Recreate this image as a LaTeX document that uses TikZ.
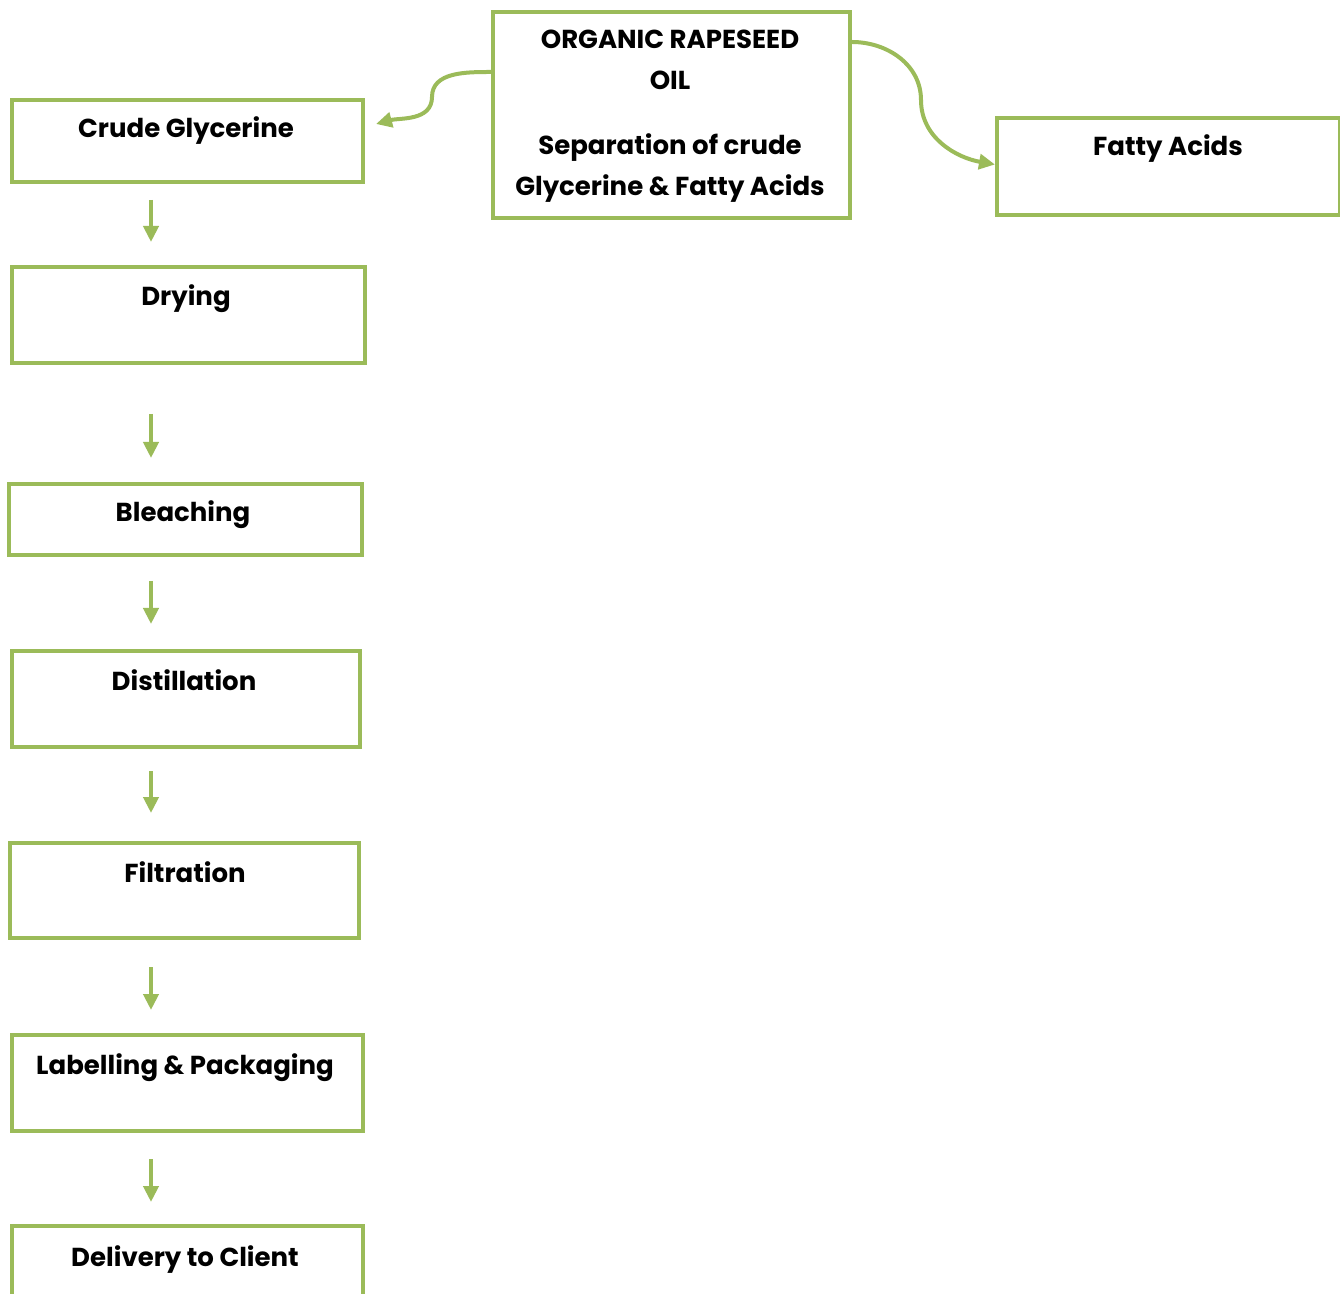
\documentclass[tikz,border=0pt]{standalone}
\usepackage{fontspec}
\setmainfont{Poppins}
\usetikzlibrary{arrows.meta}
\definecolor{leaf}{HTML}{9BBB59}
\tikzset{
  stepbox/.style={draw=leaf, line width=2pt, anchor=north west, inner sep=0pt},
  steptext/.style={anchor=base, font=\bfseries\fontsize{13}{20.5}\selectfont, align=center},
  flow/.style={draw=leaf, line width=2.4pt, -{Triangle[length=8pt,width=7.5pt]}},
  branch/.style={draw=leaf, line width=2pt, -{Triangle[length=8pt,width=7.5pt]}},
}
\begin{document}
\begin{tikzpicture}[x=0.5pt, y=-0.5pt]
  \useasboundingbox (0,0) rectangle (1340,1294);

  % boxes
  \node[stepbox, minimum width=178.5pt, minimum height=103pt] (oil) at (491,10) {};
  \node[stepbox, minimum width=175.5pt, minimum height=41pt] (crude) at (10,98) {};
  \node[stepbox, minimum width=171.5pt, minimum height=48.5pt] (fatty) at (995,116) {};
  \node[stepbox, minimum width=176.5pt, minimum height=48pt] (drying) at (10,265) {};
  \node[stepbox, minimum width=176.5pt, minimum height=35.5pt] (bleach) at (7,482) {};
  \node[stepbox, minimum width=174pt, minimum height=48pt] (distil) at (10,649) {};
  \node[stepbox, minimum width=174.5pt, minimum height=47.5pt] (filter) at (8,841) {};
  \node[stepbox, minimum width=175.5pt, minimum height=48pt] (pack) at (10,1033) {};
  \node[stepbox, minimum width=175.5pt, minimum height=48pt] (client) at (10,1224) {};

  % texts (base = last line)
  \node[steptext] (oil-t) at (670,90) {ORGANIC RAPESEED\\OIL};
  \node[steptext] (sep-t) at (670,196) {Separation of crude\\Glycerine \& Fatty Acids};
  \node[steptext] (crude-t) at (186,138) {Crude Glycerine};
  \node[steptext] (fatty-t) at (1168,156) {Fatty Acids};
  \node[steptext] (drying-t) at (186,306) {Drying};
  \node[steptext] (bleach-t) at (183,522) {Bleaching};
  \node[steptext] (distil-t) at (184,690) {Distillation};
  \node[steptext] (filter-t) at (185,882) {Filtration};
  \node[steptext] (pack-t) at (185,1074) {Labelling \& Packaging};
  \node[steptext] (client-t) at (185,1266) {Delivery to Client};

  % side branches
  \coordinate (lbend) at (432,97);
  \coordinate (rbend) at (921,100);
  \draw[branch] ([yshift=-31pt]oil.north west) to[out=180,in=90] (lbend)
    to[out=-90,in=15] ([xshift=5.5pt,yshift=8.5pt]crude.east);
  \draw[branch] ([yshift=-16pt]oil.north east) to[out=0,in=90] (rbend)
    to[out=-90,in=170] ([yshift=1pt]fatty.west);

  % main line
  \coordinate (col) at (151,0);
  \foreach \a/\b/\s/\e in {crude/drying/8/11.5, drying/bleach/24.5/12,
      bleach/distil/12/12.5, distil/filter/11/14, filter/pack/13.5/11.5,
      pack/client/13/11}{
    \draw[flow, shorten <=\s pt, shorten >=\e pt] (\a.south -| col) -- (\b.north -| col);
  }
\end{tikzpicture}
\end{document}
